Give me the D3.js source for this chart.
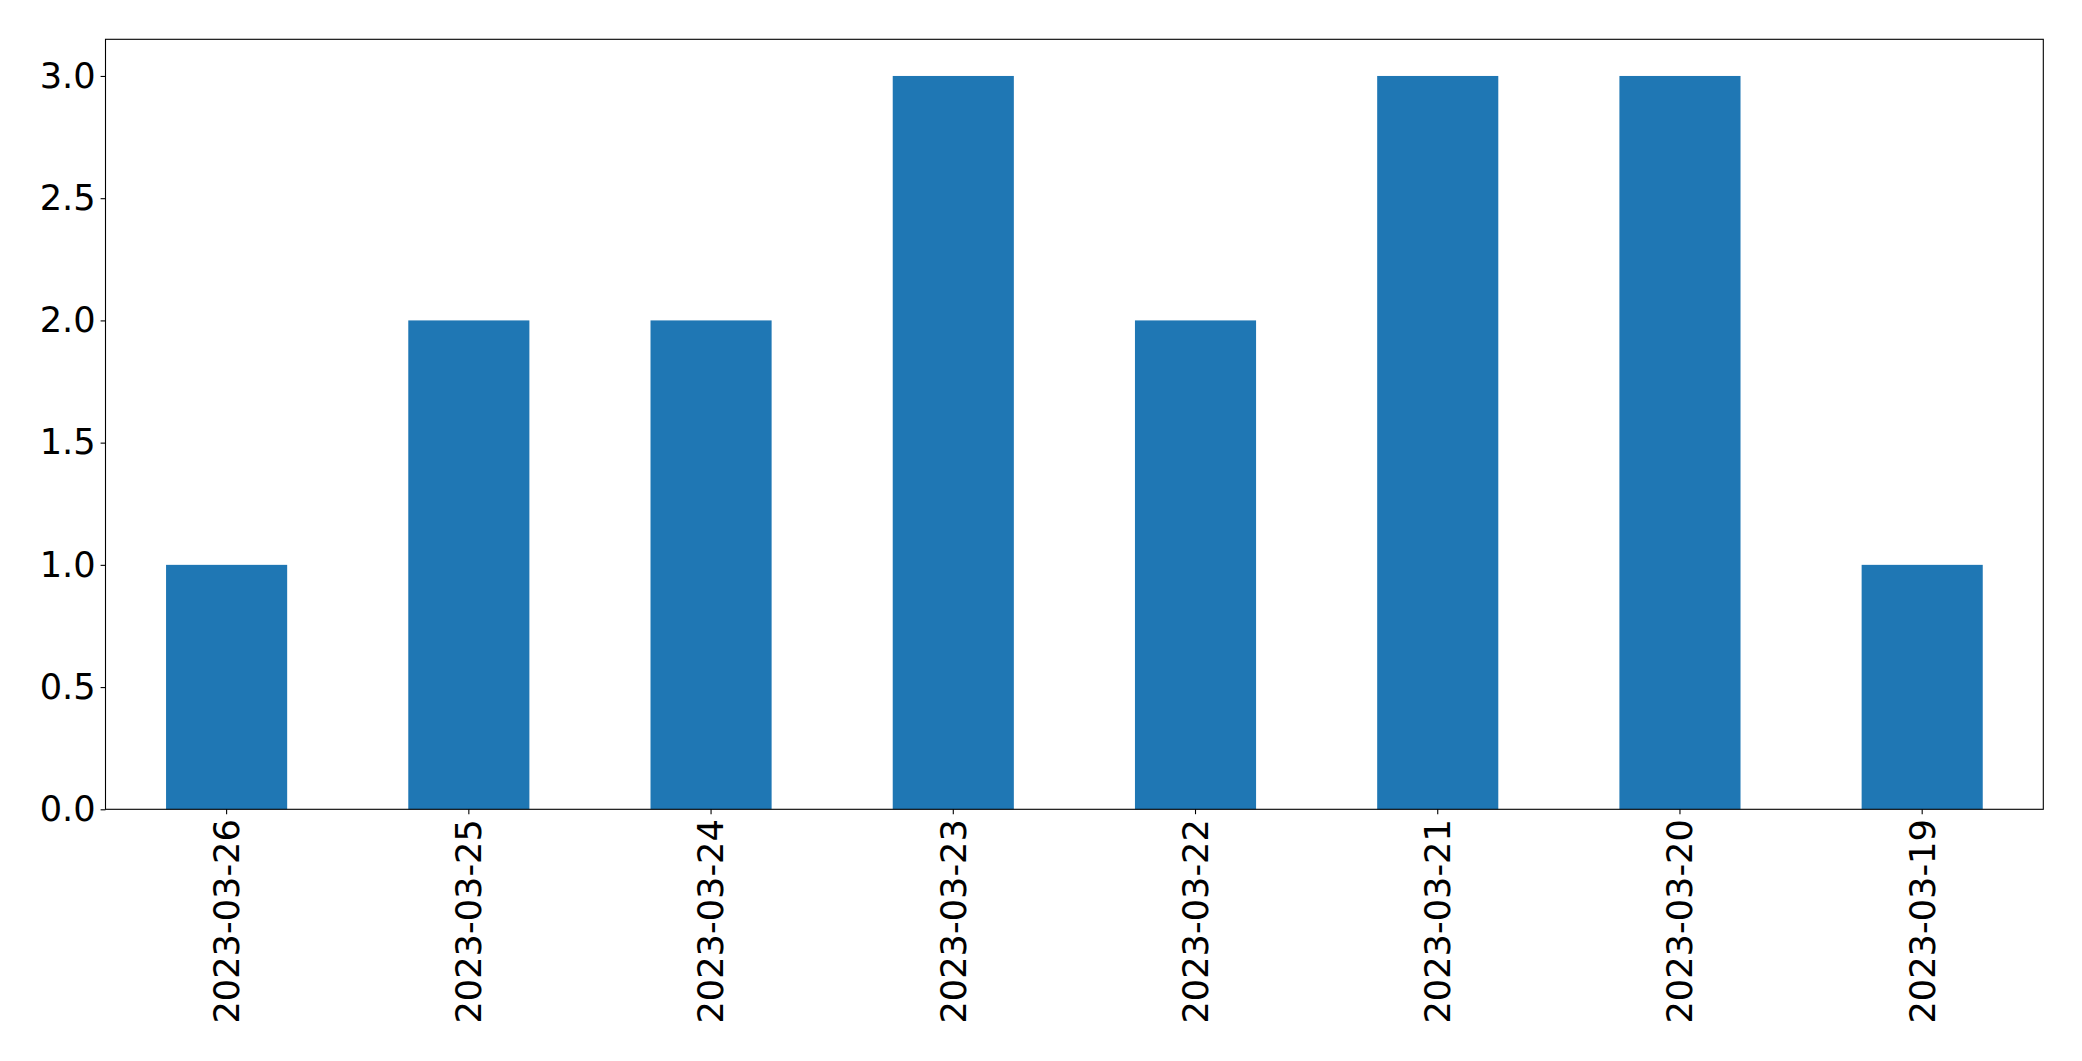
<!DOCTYPE html>
<html>
<head>
<meta charset="utf-8">
<script src="https://cdn.jsdelivr.net/npm/d3@7"></script>
<style>
  html, body { margin: 0; padding: 0; background: #fff; }
  svg { display: block; }
  text { font-family: "DejaVu Sans", sans-serif; fill: #000; }
</style>
</head>
<body>
<script>
const categories = ["2023-03-26", "2023-03-25", "2023-03-24", "2023-03-23", "2023-03-22", "2023-03-21", "2023-03-20", "2023-03-19"];
const values = [1, 2, 2, 3, 2, 3, 3, 1];
const yTicks = [0.0, 0.5, 1.0, 1.5, 2.0, 2.5, 3.0];

const W = 2082, H = 1061;
const margin = { left: 105.5, right: W - 2043.3, top: 39.3, bottom: H - 809.3 };
const iw = W - margin.left - margin.right;
const ih = H - margin.top - margin.bottom;

const svg = d3.select("body").append("svg").attr("width", W).attr("height", H);
const g = svg.append("g").attr("transform", `translate(${margin.left},${margin.top})`);

const x = d3.scaleBand().domain(categories).range([0, iw]).paddingInner(0.5).paddingOuter(0.25);
const y = d3.scaleLinear().domain([0, 3.15]).range([ih, 0]);

g.selectAll("rect.bar").data(values).join("rect")
  .attr("class", "bar")
  .attr("x", (d, i) => x(categories[i]))
  .attr("width", x.bandwidth())
  .attr("y", d => y(d))
  .attr("height", d => y(0) - y(d))
  .attr("fill", "#1f77b4");

const fs = 35.2;
const yAxis = d3.axisLeft(y).tickValues(yTicks).tickFormat(d3.format(".1f")).tickSize(4.9).tickPadding(4.9);
const ya = g.append("g").call(yAxis);
ya.select(".domain").remove();
ya.selectAll("line").attr("stroke", "#000").attr("stroke-width", 1.1);
ya.selectAll("text").style("font-size", fs + "px").style("font-family", "DejaVu Sans");

const xAxis = d3.axisBottom(x).tickSize(4.9).tickPadding(0);
const xa = g.append("g").attr("transform", `translate(0,${ih})`).call(xAxis);
xa.select(".domain").remove();
xa.selectAll("line").attr("stroke", "#000").attr("stroke-width", 1.1);
xa.selectAll("text")
  .style("font-size", fs + "px").style("font-family", "DejaVu Sans")
  .attr("text-anchor", "end")
  .attr("transform", "translate(0,9.8) rotate(-90)")
  .attr("x", 0).attr("y", 0).attr("dy", "0.35em");

g.append("rect").attr("x", 0).attr("y", 0).attr("width", iw).attr("height", ih)
  .attr("fill", "none").attr("stroke", "#000").attr("stroke-width", 1.1);
</script>
</body>
</html>
